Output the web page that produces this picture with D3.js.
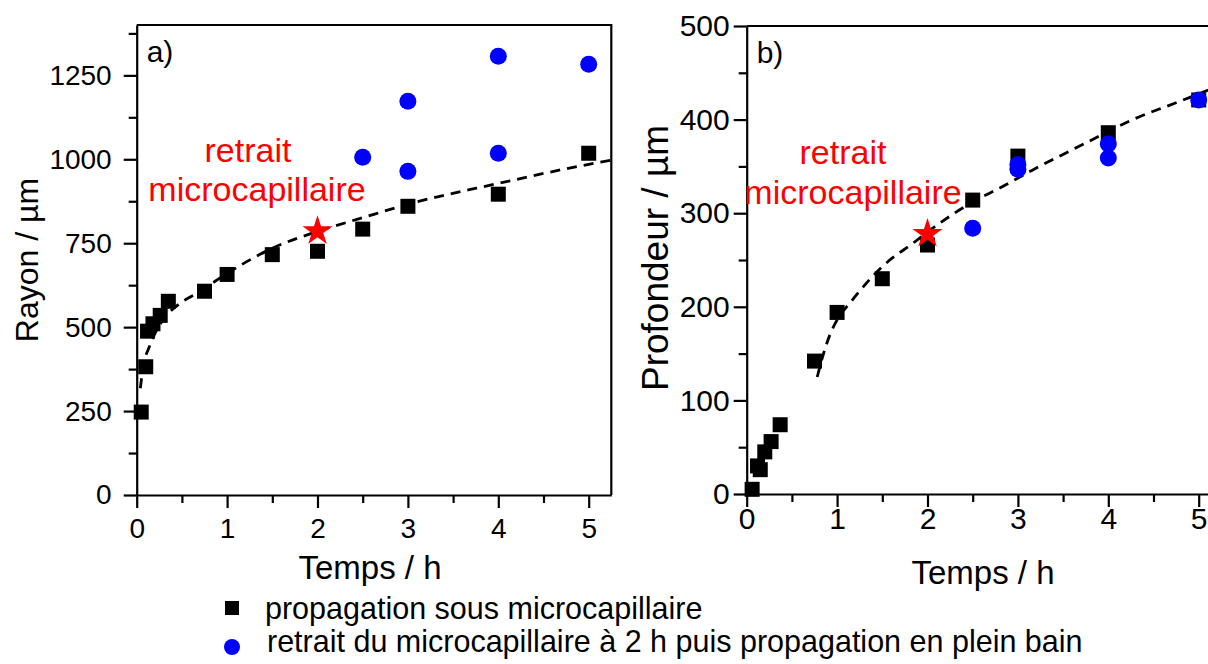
<!DOCTYPE html>
<html><head><meta charset="utf-8">
<script src="https://cdn.jsdelivr.net/npm/d3@7"></script>
<style>
body{margin:0;background:#fff}
svg{display:block}
text{font-family:"Liberation Sans",Arial,sans-serif;fill:#000}
</style>
</head><body>
<svg id="c" width="1208" height="664"></svg>
<script>
// ---- Panel a) Rayon ----
const timeA = [0.05,0.1,0.12,0.18,0.26,0.35,0.75,1,1.5,2,2.5,3,4,5];
const rayonSquares = [247,382,488,510,535,577,607,657,716,726,792,860,896,1018];
const timeBlueA = [2.5,3,3,4,4,5];
const rayonBlue = [1006,1173,964,1307,1018,1283];
const fitTimeA = [0.04,0.06,0.09,0.13,0.2,0.3,0.45,0.68,1.0,1.5,2.0,2.5,3.0,4.0,5.0,5.25];
const fitRayon = [318,360,405,435,480,525,565,603,660,735,785,826,866,928,985,997];
const starA = [2, 786];

// ---- Panel b) Profondeur ----
const timeB = [0.06,0.12,0.15,0.2,0.27,0.37,0.75,1,1.5,2,2.5,3,4,5];
const depthSquares = [5,30,26,45,56,74,142,194,230,266,314,361,386,421];
const timeBlueB = [2.5,3,3,4,4,5];
const depthBlue = [284,352,347,374,359,421];
const fitTimeB = [0.78,0.85,0.92,1.0,1.15,1.5,1.84,2.13,2.5,2.8,3.16,3.71,4.27,4.75,5.25];
const fitDepth = [125,150,170,186,205,243,268,289,312,327,346,373,400,418,437];
const starB = [2, 278];

// ---- ticks / labels ----
const xMajor = [0,1,2,3,4,5];
const xMinor = [0.5,1.5,2.5,3.5,4.5];
const yMajorA = [0,250,500,750,1000,1250];
const yMinorA = [125,375,625,875,1125,1375];
const yMajorB = [0,100,200,300,400,500];
const yMinorB = [50,150,250,350,450];
const xTitle = "Temps / h";
const yTitleA = "Rayon / µm";
const yTitleB = "Profondeur / µm";
const annot = ["retrait", "microcapillaire"];
const legendLabels = ["propagation sous microcapillaire",
  "retrait du microcapillaire à 2 h puis propagation en plein bain"];

const svg = d3.select("#c");

function panel(cfg){
  const g = svg.append("g");
  const x = d3.scaleLinear().domain([0,5.25]).range([cfg.x0, cfg.x0 + 5.25*90.4]);
  const y = d3.scaleLinear().domain(cfg.yDom).range([cfg.y0, cfg.y1]);
  const [xl, xr] = x.range();
  // frame top/right
  g.append("path").attr("d",`M${xl},${cfg.y1}H${xr}V${cfg.y0}`)
    .attr("fill","none").attr("stroke","#000").attr("stroke-width",2.2);
  // x axis
  g.append("g").attr("transform",`translate(0,${cfg.y0})`)
    .call(d3.axisBottom(x).tickValues(xMajor).tickSize(13).tickSizeOuter(0).tickPadding(cfg.xPad).tickFormat(d3.format("d")));
  g.append("g").attr("transform",`translate(0,${cfg.y0})`)
    .call(d3.axisBottom(x).tickValues(xMinor).tickSize(8).tickSizeOuter(0).tickFormat(""))
    .select(".domain").remove();
  // y axis
  g.append("g").attr("transform",`translate(${xl},0)`)
    .call(d3.axisLeft(y).tickValues(cfg.yMajor).tickSize(13).tickSizeOuter(0).tickPadding(cfg.yPad).tickFormat(d3.format("d")));
  g.append("g").attr("transform",`translate(${xl},0)`)
    .call(d3.axisLeft(y).tickValues(cfg.yMinor).tickSize(8).tickSizeOuter(0).tickFormat(""))
    .select(".domain").remove();
  g.selectAll(".domain").attr("stroke-width",2.2);
  g.selectAll(".tick line").attr("stroke-width",2.2);
  g.selectAll(".tick text").attr("font-size",cfg.tickFont).attr("font-family","Liberation Sans, Arial, sans-serif");

  // titles
  g.append("text").attr("x",cfg.xtX).attr("y",cfg.xtY).attr("text-anchor","middle")
    .attr("font-size",33).text(xTitle);
  g.append("text").attr("transform",`translate(${cfg.ytX},${cfg.ytY}) rotate(-90)`)
    .attr("text-anchor","middle").attr("font-size",cfg.ytFont).text(cfg.yTitle);
  g.append("text").attr("x",xl+10).attr("y",cfg.y1+37).attr("font-size",30).text(cfg.tag);

  // annotation
  g.append("text").attr("x",cfg.an1[0]).attr("y",cfg.an1[1]).attr("text-anchor","middle")
    .attr("font-size",34).style("fill","#ff0000").text(annot[0]);
  g.append("text").attr("x",cfg.an2[0]).attr("y",cfg.an2[1]).attr("text-anchor","middle")
    .attr("font-size",34).style("fill","#ff0000").text(annot[1]);

  // fit line
  const line = d3.line().x(d=>x(d[0])).y(d=>y(d[1])).curve(d3.curveMonotoneX);
  g.append("path").datum(cfg.fitT.map((t,i)=>[t,cfg.fitV[i]]))
    .attr("d",line).attr("fill","none").attr("stroke","#000")
    .attr("stroke-width",2.8).attr("stroke-dasharray","10,7");

  // squares
  const s = 15;
  g.selectAll("rect.sq").data(cfg.sqT.map((t,i)=>[t,cfg.sqV[i]])).join("rect")
    .attr("class","sq").attr("x",d=>x(d[0])-s/2).attr("y",d=>y(d[1])-s/2)
    .attr("width",s).attr("height",s).attr("fill","#000");
  // blue circles
  g.selectAll("circle.bl").data(cfg.blT.map((t,i)=>[t,cfg.blV[i]])).join("circle")
    .attr("class","bl").attr("cx",d=>x(d[0])).attr("cy",d=>y(d[1])).attr("r",8.5)
    .attr("fill","#0000ff");
  // star
  g.append("path").attr("d",d3.symbol(d3.symbolStar).size(280)())
    .attr("transform",`translate(${x(cfg.star[0])},${y(cfg.star[1])})`)
    .attr("fill","#ff0000");
}

panel({x0:136.7, y0:495, y1:25, yDom:[0,1400], yMajor:yMajorA, yMinor:yMinorA,
  tickFont:28, ytFont:32,
  xPad:10, yPad:12, xtX:370, xtY:579, ytX:38, ytY:260, yTitle:yTitleA, tag:"a)",
  an1:[248,162], an2:[257,201],
  fitT:fitTimeA, fitV:fitRayon, sqT:timeA, sqV:rayonSquares, blT:timeBlueA, blV:rayonBlue, star:starA});

panel({x0:746.7, y0:494, y1:26, yDom:[0,500], yMajor:yMajorB, yMinor:yMinorB,
  tickFont:30, ytFont:37,
  xPad:1, yPad:4, xtX:983, xtY:584, ytX:668, ytY:258, yTitle:yTitleB, tag:"b)",
  an1:[843,164], an2:[853,204],
  fitT:fitTimeB, fitV:fitDepth, sqT:timeB, sqV:depthSquares, blT:timeBlueB, blV:depthBlue, star:starB});

// legend
const lg = svg.append("g");
lg.append("rect").attr("x",232-7).attr("y",608-7).attr("width",14).attr("height",14).attr("fill","#000");
lg.append("circle").attr("cx",232).attr("cy",647).attr("r",8).attr("fill","#0000ff");
lg.append("text").attr("x",265).attr("y",619).attr("font-size",30.5).text(legendLabels[0]);
lg.append("text").attr("x",267).attr("y",652).attr("font-size",30.5).text(legendLabels[1]);
</script>
</body></html>
